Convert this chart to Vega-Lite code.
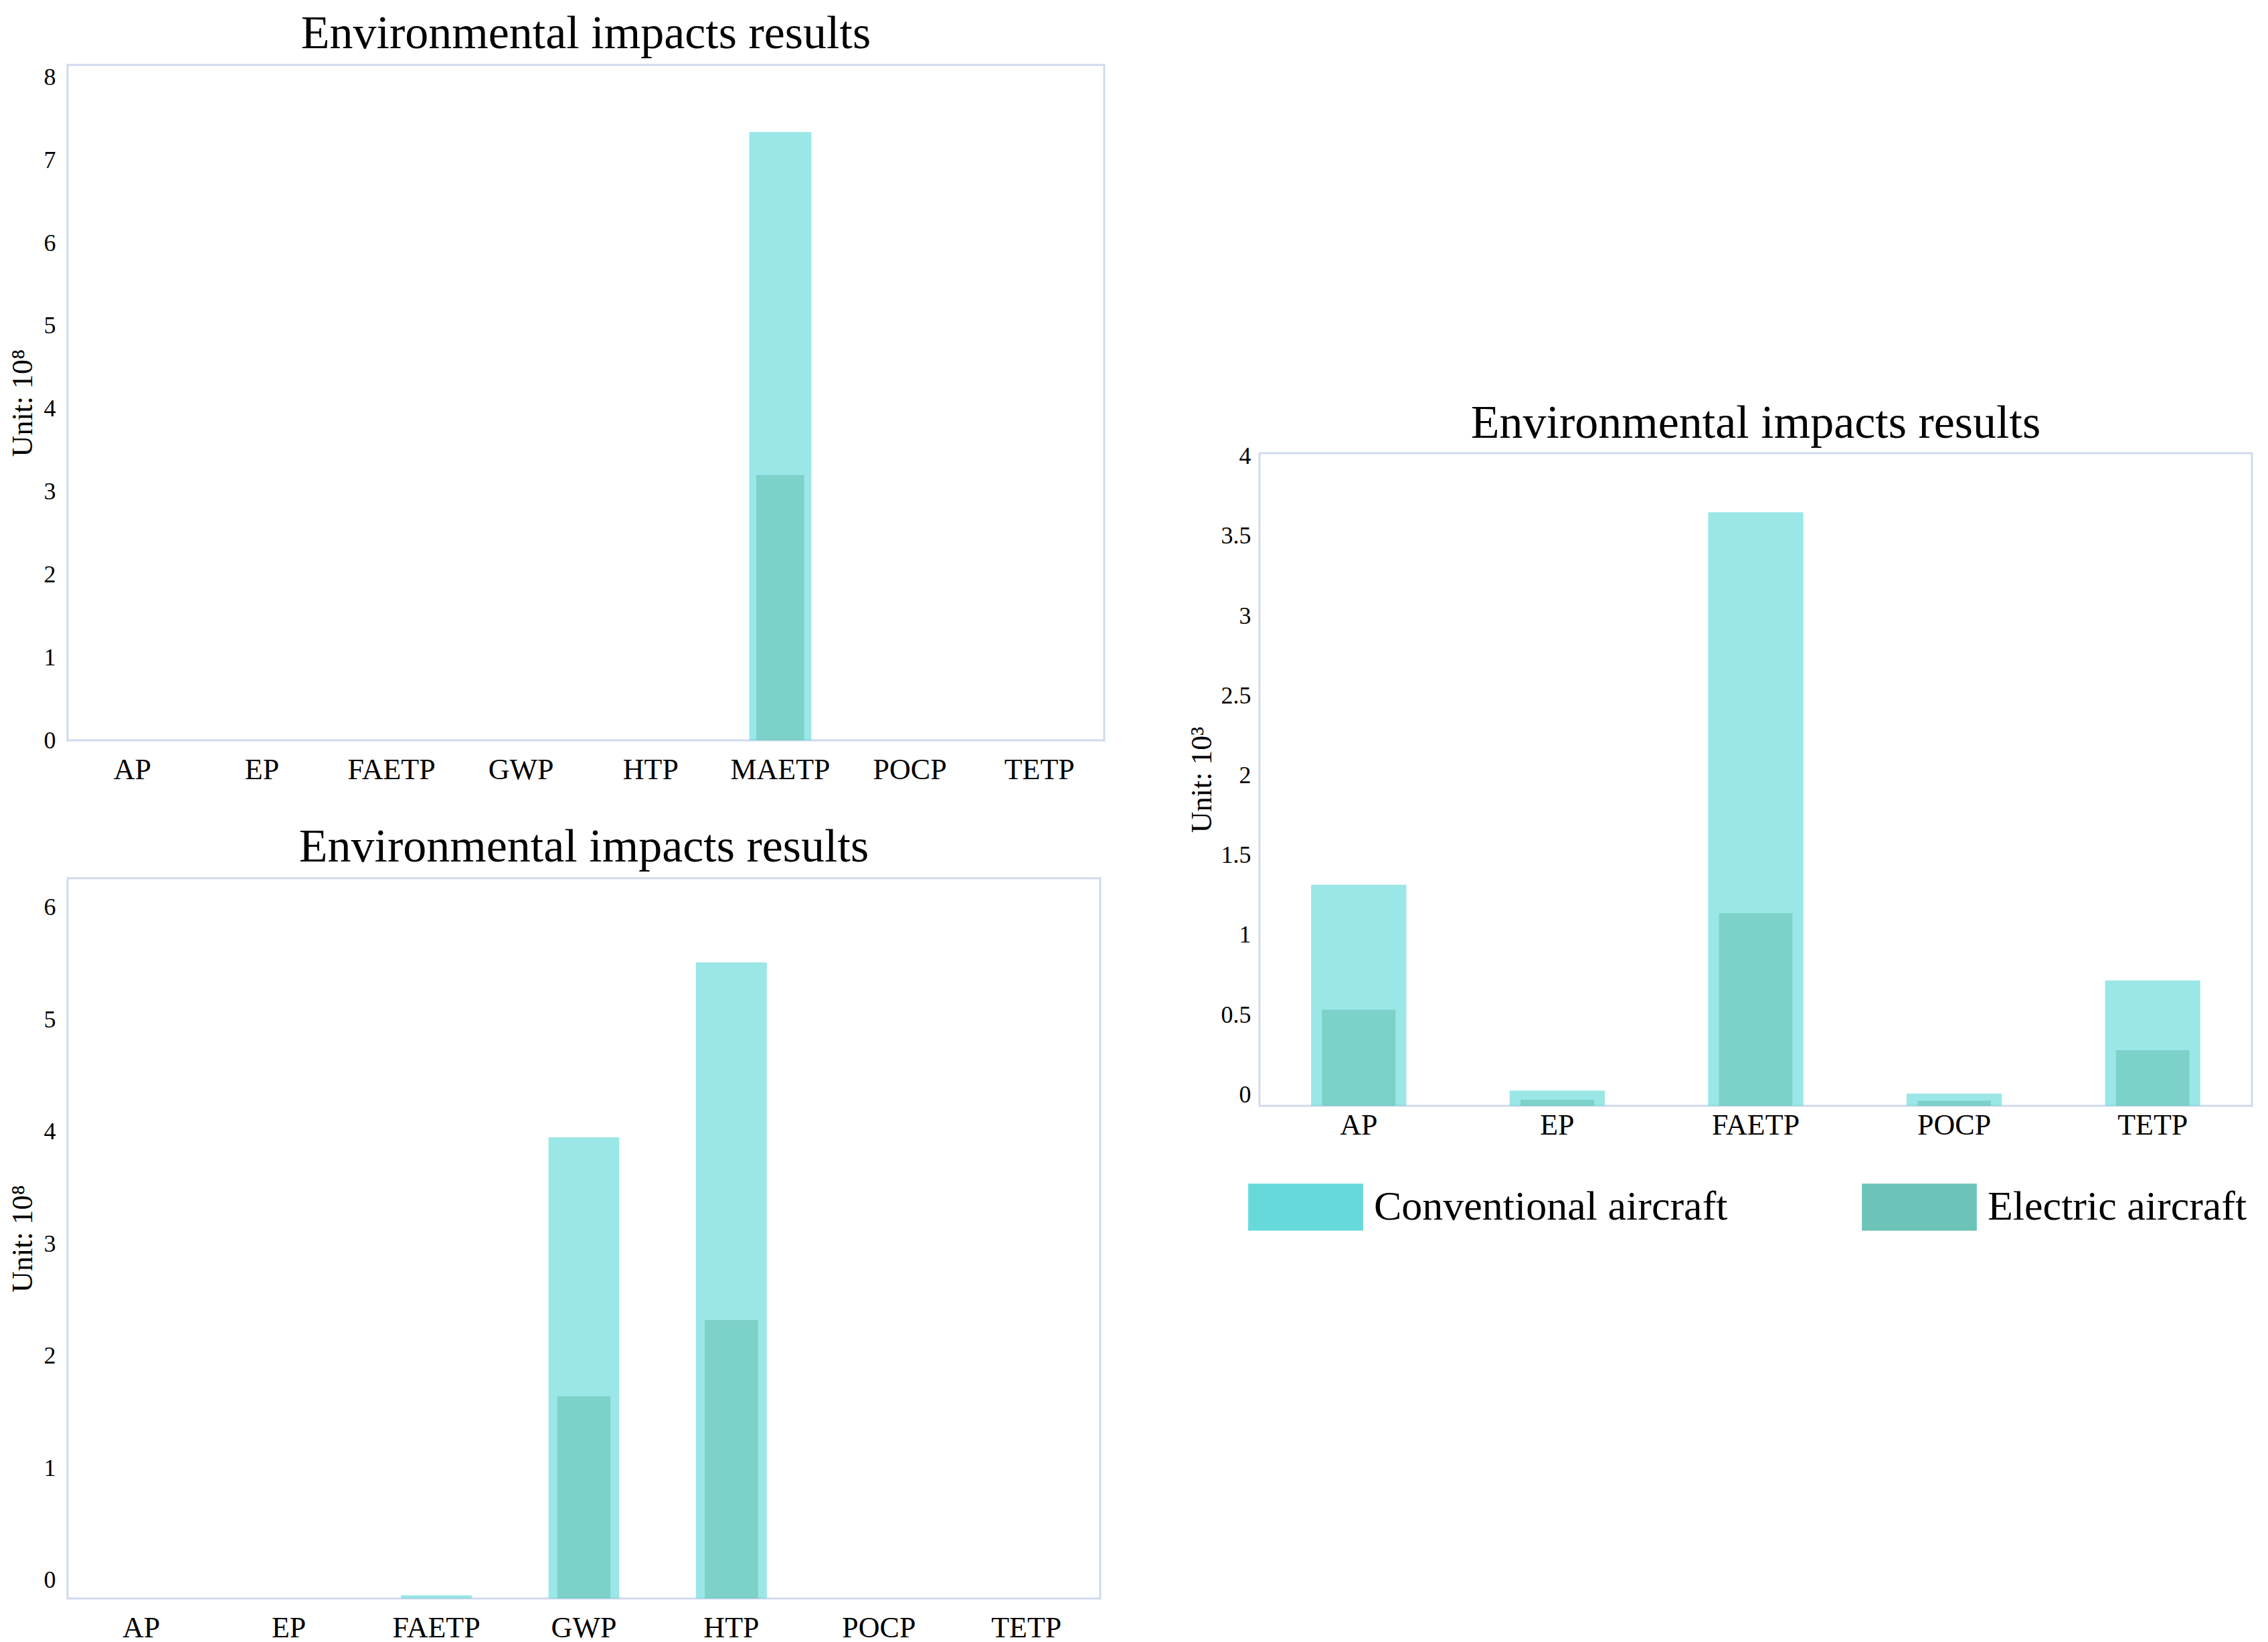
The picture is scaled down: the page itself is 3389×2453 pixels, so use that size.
{
  "$schema": "https://vega.github.io/schema/vega-lite/v6.json",
  "background": "white",
  "padding": {"left": 10, "top": 14, "right": 10, "bottom": 5},
  "datasets": {
    "p1": [
      {"impact": "AP", "type": "Conventional aircraft", "value": 0},
      {"impact": "EP", "type": "Conventional aircraft", "value": 0},
      {"impact": "FAETP", "type": "Conventional aircraft", "value": 0},
      {"impact": "GWP", "type": "Conventional aircraft", "value": 0},
      {"impact": "HTP", "type": "Conventional aircraft", "value": 0},
      {"impact": "MAETP", "type": "Conventional aircraft", "value": 7.34},
      {"impact": "POCP", "type": "Conventional aircraft", "value": 0},
      {"impact": "TETP", "type": "Conventional aircraft", "value": 0},
      {"impact": "AP", "type": "Electric aircraft", "value": 0},
      {"impact": "EP", "type": "Electric aircraft", "value": 0},
      {"impact": "FAETP", "type": "Electric aircraft", "value": 0},
      {"impact": "GWP", "type": "Electric aircraft", "value": 0},
      {"impact": "HTP", "type": "Electric aircraft", "value": 0},
      {"impact": "MAETP", "type": "Electric aircraft", "value": 3.2},
      {"impact": "POCP", "type": "Electric aircraft", "value": 0},
      {"impact": "TETP", "type": "Electric aircraft", "value": 0}
    ],
    "p2": [
      {"impact": "AP", "type": "Conventional aircraft", "value": -0.163},
      {"impact": "EP", "type": "Conventional aircraft", "value": -0.163},
      {"impact": "FAETP", "type": "Conventional aircraft", "value": -0.135},
      {"impact": "GWP", "type": "Conventional aircraft", "value": 3.95},
      {"impact": "HTP", "type": "Conventional aircraft", "value": 5.51},
      {"impact": "POCP", "type": "Conventional aircraft", "value": -0.163},
      {"impact": "TETP", "type": "Conventional aircraft", "value": -0.163},
      {"impact": "AP", "type": "Electric aircraft", "value": -0.163},
      {"impact": "EP", "type": "Electric aircraft", "value": -0.163},
      {"impact": "FAETP", "type": "Electric aircraft", "value": -0.163},
      {"impact": "GWP", "type": "Electric aircraft", "value": 1.64},
      {"impact": "HTP", "type": "Electric aircraft", "value": 2.32},
      {"impact": "POCP", "type": "Electric aircraft", "value": -0.163},
      {"impact": "TETP", "type": "Electric aircraft", "value": -0.163}
    ],
    "p3": [
      {"impact": "AP", "type": "Conventional aircraft", "value": 1.315},
      {"impact": "EP", "type": "Conventional aircraft", "value": 0.025},
      {"impact": "FAETP", "type": "Conventional aircraft", "value": 3.65},
      {"impact": "POCP", "type": "Conventional aircraft", "value": 0.007},
      {"impact": "TETP", "type": "Conventional aircraft", "value": 0.715},
      {"impact": "AP", "type": "Electric aircraft", "value": 0.532},
      {"impact": "EP", "type": "Electric aircraft", "value": -0.032},
      {"impact": "FAETP", "type": "Electric aircraft", "value": 1.138},
      {"impact": "POCP", "type": "Electric aircraft", "value": -0.039},
      {"impact": "TETP", "type": "Electric aircraft", "value": 0.278}
    ]
  },
  "hconcat": [
    {
      "vconcat": [
        {
          "title": "Environmental impacts results",
          "width": 1549,
          "height": 1009,
          "data": {"name": "p1"},
          "encoding": {
            "x": {
              "field": "impact", "type": "nominal", "sort": null,
              "scale": {"paddingInner": 0, "paddingOuter": 0},
              "axis": {"title": null, "labelAngle": 0}
            },
            "y": {
              "field": "value", "type": "quantitative",
              "scale": {"domain": [0, 8.15], "nice": false, "zero": false},
              "axis": {"title": "Unit: 10⁸", "values": [0, 1, 2, 3, 4, 5, 6, 7, 8]}
            },
            "y2": {"datum": 0}
          },
          "layer": [
            {
              "transform": [{"filter": "datum.type === 'Conventional aircraft'"}],
              "mark": {"type": "bar", "width": {"band": 0.48}, "color": "#66dada"}
            },
            {
              "transform": [{"filter": "datum.type === 'Electric aircraft'"}],
              "mark": {"type": "bar", "width": {"band": 0.37}, "color": "#6bc4b7"}
            }
          ]
        },
        {
          "title": "Environmental impacts results",
          "width": 1543,
          "height": 1076,
          "data": {"name": "p2"},
          "encoding": {
            "x": {
              "field": "impact", "type": "nominal", "sort": null,
              "scale": {"paddingInner": 0, "paddingOuter": 0},
              "axis": {"title": null, "labelAngle": 0}
            },
            "y": {
              "field": "value", "type": "quantitative",
              "scale": {"domain": [-0.163, 6.26], "nice": false, "zero": false},
              "axis": {"title": "Unit: 10⁸", "values": [0, 1, 2, 3, 4, 5, 6]}
            },
            "y2": {"datum": -0.163}
          },
          "layer": [
            {
              "transform": [{"filter": "datum.type === 'Conventional aircraft'"}],
              "mark": {"type": "bar", "width": {"band": 0.48}, "color": "#66dada"}
            },
            {
              "transform": [{"filter": "datum.type === 'Electric aircraft'"}],
              "mark": {"type": "bar", "width": {"band": 0.36}, "color": "#6bc4b7"}
            }
          ]
        }
      ],
      "spacing": 55
    },
    {
      "vconcat": [
        {
          "width": 10,
          "height": 499,
          "data": {"values": []},
          "mark": "point",
          "view": {"stroke": null}
        },
        {
          "title": {"text": "Environmental impacts results", "offset": -5},
          "width": 1483,
          "height": 975,
          "data": {"name": "p3"},
          "encoding": {
            "x": {
              "field": "impact", "type": "nominal", "sort": null,
              "scale": {"paddingInner": 0, "paddingOuter": 0},
              "axis": {"title": null, "labelAngle": 0, "labelPadding": 7}
            },
            "y": {
              "field": "value", "type": "quantitative",
              "scale": {"domain": [-0.07, 4.02], "nice": false, "zero": false},
              "axis": {"title": "Unit: 10³", "format": "~g", "values": [0, 0.5, 1, 1.5, 2, 2.5, 3, 3.5, 4], "titlePadding": 6, "labelPadding": 13}
            },
            "y2": {"datum": -0.07},
            "color": {
              "field": "type", "type": "nominal",
              "scale": {"domain": ["Conventional aircraft", "Electric aircraft"], "range": ["#66dada", "#6bc4b7"]},
              "legend": {"title": null, "orient": "none", "legendX": -17, "legendY": 1040}
            }
          },
          "layer": [
            {
              "transform": [{"filter": "datum.type === 'Conventional aircraft'"}],
              "mark": {"type": "bar", "width": {"band": 0.48}}
            },
            {
              "transform": [{"filter": "datum.type === 'Electric aircraft'"}],
              "mark": {"type": "bar", "width": {"band": 0.37}}
            }
          ]
        }
      ],
      "spacing": 0,
      "resolve": {"scale": {"color": "independent"}, "legend": {"color": "independent"}}
    }
  ],
  "spacing": 120,
  "resolve": {"scale": {"color": "independent"}, "legend": {"color": "independent"}},
  "config": {
    "font": "Liberation Serif",
    "view": {"stroke": "#cfd9ef", "strokeWidth": 3},
    "bar": {"opacity": 0.65},
    "title": {"font": "Liberation Serif", "fontSize": 70, "fontWeight": "normal", "color": "#000000", "offset": 10},
    "axis": {
      "labelFont": "Liberation Serif",
      "titleFont": "Liberation Serif",
      "labelColor": "#000000",
      "titleColor": "#000000",
      "domain": false,
      "ticks": false,
      "grid": false,
      "titleFontWeight": "normal",
      "titleFontSize": 44
    },
    "axisX": {"labelFontSize": 44, "labelPadding": 22},
    "axisY": {"labelFontSize": 36, "labelPadding": 18, "titlePadding": 9},
    "legend": {
      "direction": "horizontal",
      "labelFont": "Liberation Serif",
      "labelFontSize": 62,
      "labelColor": "#000000",
      "labelLimit": 0,
      "labelOffset": 16,
      "symbolType": "M-1,-0.41H1V0.41H-1Z",
      "symbolSize": 29500,
      "symbolOpacity": 1,
      "symbolStrokeWidth": 0,
      "columnPadding": 200
    }
  }
}
